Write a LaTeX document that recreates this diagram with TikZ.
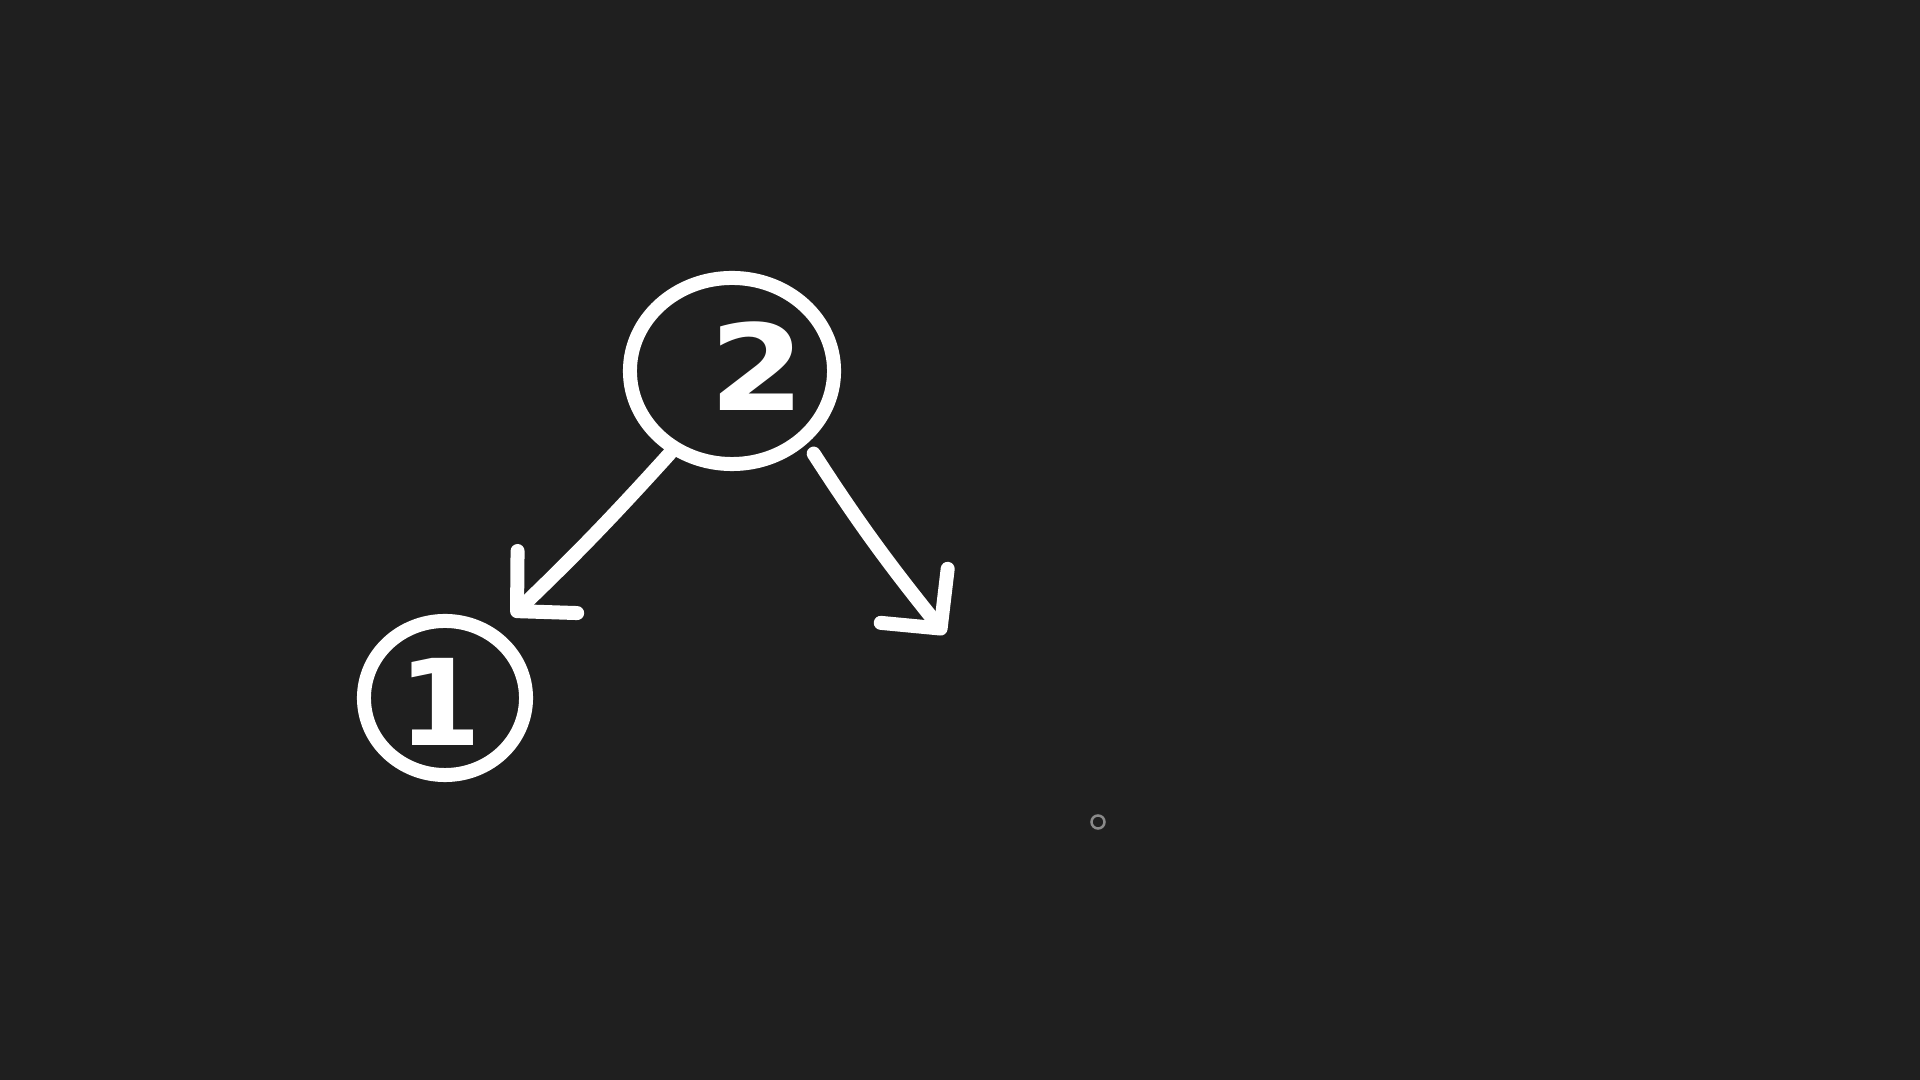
\documentclass[tikz,border=0pt]{standalone}
\usepackage{fontspec}
\setmainfont{DejaVu Sans}
\usetikzlibrary{shapes.geometric,arrows.meta}
\definecolor{bg}{HTML}{1F1F1F}
\definecolor{dotgray}{HTML}{8A8A8A}
\tikzset{
  ink/.style={draw=white, line width=0.14cm, line cap=round, line join=round},
  bubble/.style={ink, ellipse, inner sep=0pt},
  digit/.style={text=white, font=\fontsize{34}{36}\selectfont\bfseries, inner sep=0pt},
  arr/.style={ink, -{Straight Barb[length=0.42cm, width=0.86cm, round]}},
}
\begin{document}
\begin{tikzpicture}[x=0.01cm, y=-0.01cm]
  \fill[bg] (0,0) rectangle (1920,1080);
  \useasboundingbox (0,0) rectangle (1920,1080);
  % nodes
  \node[bubble, minimum width=2.04cm, minimum height=1.86cm] (n2) at (732,371) {};
  \node[digit, xscale=1.15] (t2) at (757,366) {2};
  \node[bubble, minimum width=1.62cm, minimum height=1.54cm] (n1) at (445,698) {};
  \node[digit] (t1) at (440,702) {1};
  \coordinate (e1) at (512,616);
  \coordinate (e2) at (945,634);
  % connectors
  \draw[arr] (n2.233) to[bend left=2] (e1);
  \draw[arr, shorten <=0.12cm] (n2.-44) to[bend right=3] (e2);
  % small marker
  \node[draw=dotgray, line width=0.025cm, circle, minimum size=0.13cm, inner sep=0pt] (dot) at (1098,822) {};
\end{tikzpicture}
\end{document}
